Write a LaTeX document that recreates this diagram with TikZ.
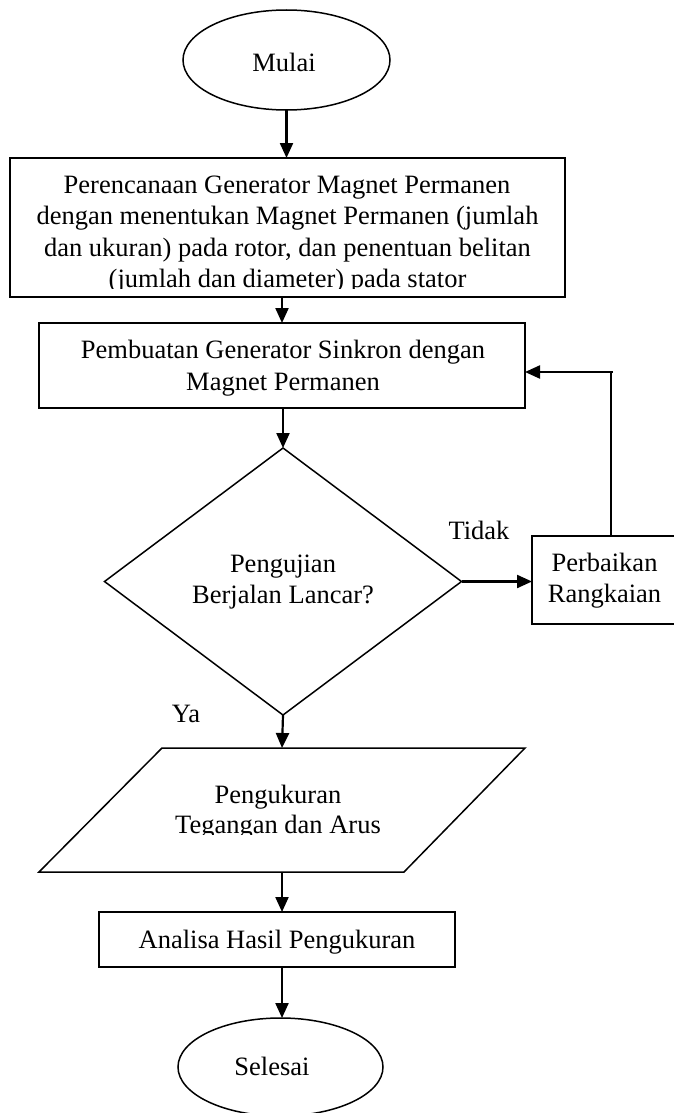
\documentclass[tikz,border=0pt]{standalone}
\usepackage{fontspec}
\setmainfont{Liberation Serif}
\usetikzlibrary{shapes.geometric,arrows.meta}
\begin{document}
\begin{tikzpicture}[x=1pt,y=-1pt,
  shapeline/.style={draw=black,line width=1.5pt,inner sep=0pt,outer sep=0pt},
  box/.style={shapeline,rectangle},
  oval/.style={shapeline,ellipse},
  txt/.style={font=\fontsize{26.5}{32}\selectfont,anchor=base,inner sep=0pt},
  flow/.style={line width=2.2pt,-{Triangle[length=15pt,width=13pt]}},
  plain/.style={line width=2.2pt}
]
\useasboundingbox (0,0) rectangle (674,1113);

% shapes
\node[oval,minimum width=207pt,minimum height=100pt] (mulai) at (286.5,60) {};
\node[box,minimum width=555pt,minimum height=139pt] (b1) at (287.5,227.5) {};
\node[box,minimum width=486pt,minimum height=85pt] (b2) at (282,365.5) {};
\node[shapeline,diamond,minimum width=357pt,minimum height=267pt] (dec) at (283,581.5) {};
\node[box,minimum width=148pt,minimum height=88pt,anchor=west] (perb) at (532,580) {};
\draw[shapeline,line join=miter] (162,748) coordinate (pTL) -- (525,748) coordinate (pTR)
   -- (404,872) coordinate (pBR) -- (39,872) coordinate (pBL) -- cycle;
\coordinate (pTop) at (282,748);
\coordinate (pBot) at (282,872);
\node[box,minimum width=356pt,minimum height=55pt] (an) at (277,939.5) {};
\node[oval,minimum width=205pt,minimum height=98pt] (sel) at (280.5,1067) {};

% texts
\node[txt] (tmulai) at (284,72) {Mulai};
\node[txt] (t1a) at (287,193) {Perencanaan Generator Magnet Permanen};
\node[txt] (t1b) at (287.5,224.5) {dengan menentukan Magnet Permanen (jumlah};
\node[txt] (t1c) at (287.5,256) {dan ukuran) pada rotor, dan penentuan belitan};
\begin{scope}
\clip (10,262) rectangle (565,288.5);
\node[txt] (t1d) at (287.5,287.5) {(jumlah dan diameter) pada stator};
\end{scope}
\node[txt] (t2a) at (283,358) {Pembuatan Generator Sinkron dengan};
\node[txt] (t2b) at (283,390) {Magnet Permanen};
\node[txt] (tdec1) at (283,572) {Pengujian};
\node[txt] (tdec2) at (283,603) {Berjalan Lancar?};
\node[txt] (tidak) at (479,539) {Tidak};
\node[txt] (tperb1) at (604.5,571) {Perbaikan};
\node[txt] (tperb2) at (604.5,602) {Rangkaian};
\node[txt] (ya) at (186,722) {Ya};
\node[txt] (tp1) at (278,803) {Pengukuran};
\begin{scope}
\clip (100,808) rectangle (460,834);
\node[txt] (tp2) at (278,833) {Tegangan dan Arus};
\end{scope}
\node[txt] (tan) at (277,948) {Analisa Hasil Pengukuran};
\node[txt] (tsel) at (272,1075) {Selesai};

% connectors
\draw[flow] (mulai.south) -- (mulai.south |- b1.north);
\draw[flow] (b2.north |- b1.south) -- (b2.north);
\draw[flow] (dec.north |- b2.south) -- (dec.north);
\draw[flow] (dec.east) -- (dec.east -| perb.west);
\draw[plain] (perb.north -| 611,0) -- (611,372) -- (613,372);
\draw[flow] (611,372) -- (611,372 -| b2.east);
\draw[flow] (dec.south) -- (pTop);
\draw[flow] (pBot) -- (pBot |- an.north);
\draw[flow] (pBot |- an.south) -- (pBot |- sel.north);
\end{tikzpicture}
\end{document}
